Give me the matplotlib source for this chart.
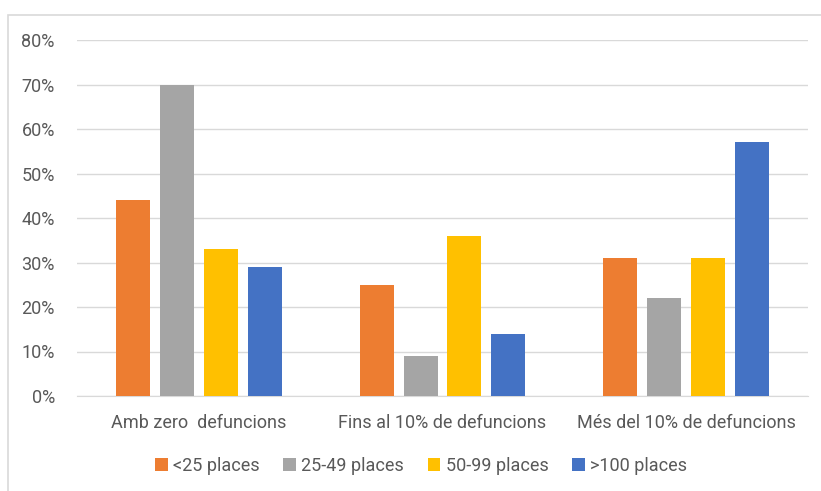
import numpy as np
import matplotlib.pyplot as plt
from matplotlib.patches import Rectangle

categories = ["Amb zero  defuncions", "Fins al 10% de defuncions", "Més del 10% de defuncions"]
series = ["<25 places", "25-49 places", "50-99 places", ">100 places"]
values = [
    [44, 25, 31],
    [70, 9, 22],
    [33, 36, 31],
    [29, 14, 57],
]
colors = ["#ED7D31", "#A5A5A5", "#FFC000", "#4472C4"]
yticks = [0, 10, 20, 30, 40, 50, 60, 70, 80]

plt.rcParams['font.family'] = ['Roboto', 'DejaVu Sans']
txt = "#595959"

fig = plt.figure(figsize=(8.21, 4.91), dpi=100)
fig.patches.append(Rectangle((8/821, -0.1), 1.2, 1 - 15/491 + 0.1, transform=fig.transFigure,
                             fill=False, edgecolor="#D9D9D9", linewidth=1.2))
ax = fig.add_axes([77/821, 1 - 396/491, 731/821, 356/491])

x = np.arange(len(categories))
w = 0.14
step = 0.18
for i, (name, vals) in enumerate(zip(series, values)):
    ax.bar(x + (i - 1.5) * step, vals, width=w, color=colors[i], label=name, zorder=3)

ax.set_xlim(-0.5, len(categories) - 0.5)
ax.set_ylim(0, 80)
ax.set_yticks(yticks)
ax.set_yticklabels([f"{v}%" for v in yticks])
ax.set_xticks(x)
ax.set_xticklabels(categories)
ax.tick_params(length=0, colors=txt, labelsize=13)
ax.tick_params(axis="x", pad=13)
ax.tick_params(axis="y", pad=16)
ax.grid(axis="y", color="#D9D9D9", linewidth=1, zorder=0)
for s in ["top", "right", "left"]:
    ax.spines[s].set_visible(False)
ax.spines["bottom"].set_color("#D9D9D9")

leg = fig.legend(loc="center", bbox_to_anchor=(0.513, 1 - 466/491), ncol=4, frameon=False,
                 fontsize=13, handlelength=0.7, handleheight=0.7, handletextpad=0.3,
                 columnspacing=1.3)
for t in leg.get_texts():
    t.set_color(txt)

fig.savefig("out.png", dpi=100)
